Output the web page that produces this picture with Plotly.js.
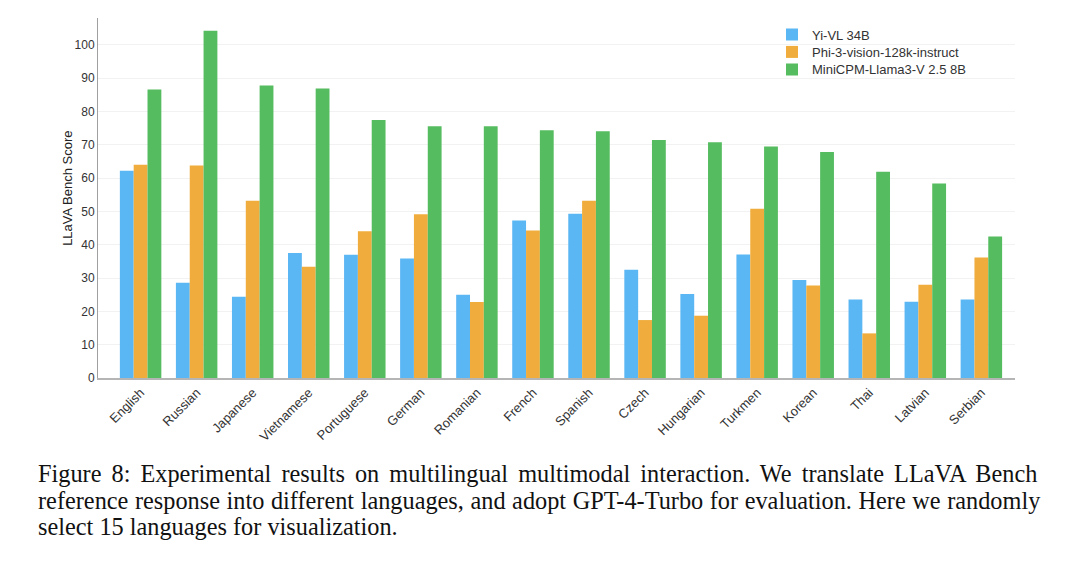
<!DOCTYPE html>
<html>
<head>
<meta charset="utf-8">
<script src="https://cdn.plot.ly/plotly-3.0.1.min.js"></script>
<style>html,body{margin:0;padding:0;background:#fff;}#chart{width:1080px;height:561px;}</style>
</head>
<body>
<div id="chart"></div>
<script>
const languages = ["English","Russian","Japanese","Vietnamese","Portuguese","German","Romanian","French","Spanish","Czech","Hungarian","Turkmen","Korean","Thai","Latvian","Serbian"];
const yiVL = [62.2, 28.6, 24.4, 37.5, 37.0, 35.9, 25.0, 47.3, 49.3, 32.5, 25.2, 37.1, 29.4, 23.6, 22.9, 23.6];
const phi3 = [64.0, 63.8, 53.2, 33.4, 44.1, 49.2, 22.8, 44.3, 53.2, 17.4, 18.7, 50.8, 27.8, 13.4, 28.0, 36.2];
const miniCPM = [86.6, 104.3, 87.8, 86.9, 77.5, 75.6, 75.6, 74.4, 74.1, 71.5, 70.8, 69.5, 67.9, 61.9, 58.4, 42.5];
const seriesNames = ["Yi-VL 34B", "Phi-3-vision-128k-instruct", "MiniCPM-Llama3-V 2.5 8B"];
const yTicks = [0,10,20,30,40,50,60,70,80,90,100];
const yTitle = "LLaVA Bench Score";
const captionLines = [
  "Figure 8: Experimental results on multilingual multimodal interaction. We translate LLaVA Bench",
  "reference response into different languages, and adopt GPT-4-Turbo for evaluation. Here we randomly",
  "select 15 languages for visualization."
];

// plot-area geometry in pixels (used only for converting to paper coords)
const PL = 98, PW = 917, PB = 378.3, PH = 360.3;
const px = x => (x - PL) / PW;
const py = y => (PB - y) / PH;

const colors = ["#5bb6f4", "#f0ad3d", "#55bc5f"];
const seriesData = [yiVL, phi3, miniCPM];
const legendIds = ["legend", "legend2", "legend3"];
const legendY = [34.5, 52, 69.5];

const traces = seriesData.map((vals, i) => ({
  type: "bar",
  name: seriesNames[i],
  x: languages,
  y: vals,
  legend: legendIds[i],
  marker: {color: colors[i], line: {width: 0}},
  hoverinfo: "x+y+name"
}));

const wordSpacing = ["4px", "0.5px", "0px"];
const annotations = captionLines.map((t, i) => ({
  text: '<span style="word-spacing:' + wordSpacing[i] + '">' + t + '</span>',
  xref: "paper", yref: "paper",
  x: px(36), xanchor: "left",
  y: py(474 + i * 26.5), yanchor: "middle",
  showarrow: false,
  font: {family: "Liberation Serif, Times New Roman, serif", size: 24.3, color: "#111"}
}));
annotations.push({
  text: yTitle,
  xref: "paper", yref: "paper",
  x: px(68), xanchor: "center",
  y: py(189), yanchor: "middle",
  textangle: -90,
  showarrow: false,
  font: {size: 13, color: "#222"}
});

const layout = {
  width: 1080, height: 561,
  margin: {l: 98, r: 65, t: 18, b: 183, pad: 0},
  paper_bgcolor: "#fff", plot_bgcolor: "#fff",
  font: {family: "Liberation Sans, Arial, sans-serif", size: 13, color: "#333"},
  barmode: "group",
  bargap: 0.26,
  bargroupgap: 0,
  showlegend: true,
  xaxis: {
    type: "category",
    range: [-0.76, 15.6],
    tickangle: -45,
    showline: true, linecolor: "#b5b5b5", linewidth: 2,
    ticks: "", showgrid: false, zeroline: false,
    tickfont: {size: 13, color: "#333"},
    automargin: false
  },
  yaxis: {
    range: [0, 108.1],
    tickvals: yTicks,
    showline: true, linecolor: "#a0a0a0", linewidth: 1,
    ticks: "", showgrid: true, gridcolor: "#f2f2f2", gridwidth: 1,
    zeroline: false,
    tickfont: {size: 12, color: "#333"},
    automargin: false
  },
  annotations: annotations
};
legendIds.forEach((id, i) => {
  layout[id] = {
    x: px(772), xanchor: "left", y: py(legendY[i]), yanchor: "middle",
    font: {size: 13, color: "#333"},
    bgcolor: "rgba(0,0,0,0)", borderwidth: 0,
    itemclick: false, itemdoubleclick: false
  };
});

Plotly.newPlot("chart", traces, layout, {displayModeBar: false, staticPlot: true});
</script>
</body>
</html>
